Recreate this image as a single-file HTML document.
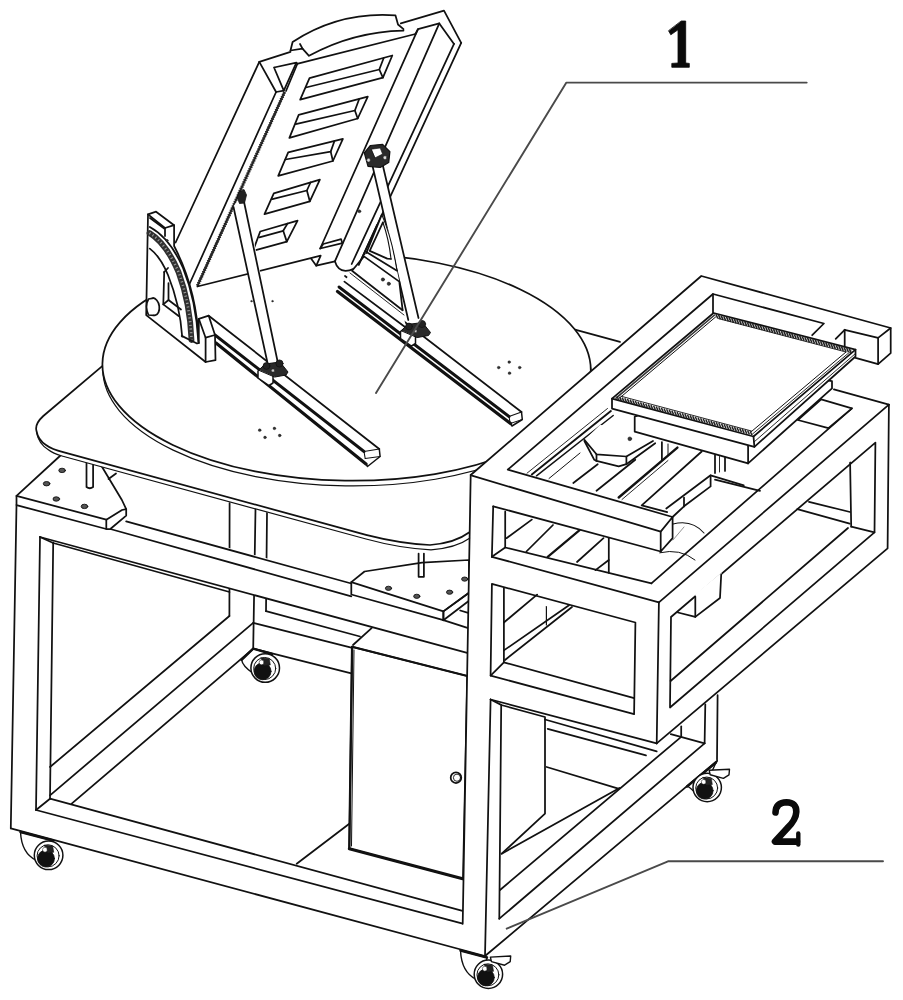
<!DOCTYPE html>
<html><head><meta charset="utf-8"><title>Figure</title>
<style>
html,body{margin:0;padding:0;background:#fff;}
body{width:903px;height:1000px;overflow:hidden;font-family:"Liberation Sans",sans-serif;}
svg{display:block;filter:blur(0.4px);}
</style></head><body>
<svg width="903" height="1000" viewBox="0 0 903 1000" fill="none" stroke="#111" stroke-width="1.75" stroke-linecap="round" stroke-linejoin="round">
<rect x="0" y="0" width="903" height="1000" fill="#fff" stroke="none"/>
<polyline points="229.6,503.0 229.4,616.0"/>
<polyline points="255.5,509.0 253.2,648.7"/>
<polyline points="267.0,513.0 266.0,611.2"/>
<path d="M241.6,659.8 L253.2,648.7 L272.0,654.0 L259.1,676.2 L252.9,673.1 Q242.6,666.0 241.6,659.8 Z" fill="#fff" stroke-width="1.4"/>
<polyline points="241.6,659.8 253.2,648.7 272.0,654.0" stroke-width="2.4"/>
<circle cx="265.2" cy="668.0" r="14.3" fill="#fff" stroke-width="1.5"/>
<circle cx="264.7" cy="668.5" r="11.031428571428572" fill="none" stroke-width="1.0"/>
<circle cx="262.6" cy="671.3" r="8.477857142857145" fill="#111" stroke-width="0.8"/>
<path d="M261.1,657.8 L269.3,658.8 L270.3,664.9 L264.2,666.0 Z" fill="#222" stroke-width="0.6"/>
<circle cx="261.6" cy="662.4" r="2.4514285714285715" fill="#fff" stroke-width="0.5"/>
<polyline points="50.0,767.0 229.4,616.0"/>
<polyline points="50.0,795.3 253.2,622.9"/>
<polyline points="71.7,803.7 253.2,648.7"/>
<polyline points="266.0,611.2 360.0,636.5"/>
<polyline points="253.2,622.9 351.3,647.7"/>
<polyline points="253.2,648.7 351.3,673.4"/>
<polyline points="371.6,628.2 353.0,645.0"/>
<polyline points="296.7,863.7 349.3,823.7"/>
<polygon points="352.1,646.8 467.3,676.0 463.0,879.0 349.3,848.7" fill="#fff"/>
<polyline points="354.0,650.0 351.5,846.0" stroke-width="1.0"/>
<polyline points="349.3,848.7 462.7,878.7" stroke-width="3.0"/>
<polyline points="352.1,646.8 349.3,848.7" stroke-width="2.3"/>
<polyline points="352.1,646.8 467.3,676.0" stroke-width="2.0"/>
<circle cx="456.0" cy="777.7" r="5.3" fill="#fff"/>
<circle cx="457.0" cy="777.7" r="3.6" fill="none" stroke-width="0.9"/>
<polygon points="110.3,529.0 126.2,519.7 469.0,614.0 469.0,653.3 40.0,537.0" fill="#fff" stroke="none"/>
<polyline points="126.2,521.3 351.3,583.5"/>
<polyline points="110.3,529.0 351.3,596.3"/>
<polyline points="443.4,620.2 469.0,628.3"/>
<polyline points="460.2,610.5 469.0,613.2"/>
<polyline points="40.0,537.0 469.0,653.3"/>
<polyline points="53.2,543.0 229.5,592.0"/>
<polyline points="16.5,505.0 10.8,828.3"/>
<polyline points="40.0,537.0 36.0,810.0"/>
<polyline points="53.2,542.3 50.0,799.0"/>
<polyline points="10.8,828.3 485.0,956.0"/>
<polyline points="36.0,810.0 462.7,923.7"/>
<polyline points="50.0,798.7 462.5,910.8"/>
<polyline points="36.0,810.0 50.0,798.7"/>
<polyline points="40.0,537.0 53.2,543.0"/>
<path d="M20.5,832.0 L53.0,840.5 L42.5,863.5 L36.3,860.4 Q21.5,853.3 20.5,832.0 Z" fill="#fff" stroke-width="1.4"/>
<polyline points="20.5,832.0 53.0,840.5" stroke-width="2.4"/>
<circle cx="48.6" cy="855.3" r="14.3" fill="#fff" stroke-width="1.5"/>
<circle cx="48.1" cy="855.8" r="11.031428571428572" fill="none" stroke-width="1.0"/>
<circle cx="46.0" cy="858.6" r="8.477857142857145" fill="#111" stroke-width="0.8"/>
<path d="M44.5,845.1 L52.7,846.1 L53.7,852.2 L47.6,853.3 Z" fill="#222" stroke-width="0.6"/>
<circle cx="45.0" cy="849.7" r="2.4514285714285715" fill="#fff" stroke-width="0.5"/>
<polygon points="16.5,495.8 61.0,455.0 100.9,465.0 121.9,500.0 126.2,509.1 126.2,515.7 110.3,529.0 106.3,529.0 16.5,505.1" fill="#fff"/>
<polyline points="108.5,479.0 116.0,473.5"/>
<polyline points="16.5,495.8 106.3,519.7 106.3,529.0"/>
<polyline points="106.3,519.7 122.0,510.0 126.2,509.1"/>
<ellipse cx="62.1" cy="470.4" rx="3.3" ry="2.2" transform="rotate(0 62.1 470.4)" fill="#555" stroke-width="0.9"/>
<ellipse cx="46.6" cy="483.7" rx="3.3" ry="2.2" transform="rotate(0 46.6 483.7)" fill="#555" stroke-width="0.9"/>
<ellipse cx="56.3" cy="499.0" rx="3.3" ry="2.2" transform="rotate(0 56.3 499.0)" fill="#555" stroke-width="0.9"/>
<ellipse cx="84.5" cy="506.4" rx="3.3" ry="2.2" transform="rotate(0 84.5 506.4)" fill="#555" stroke-width="0.9"/>
<path d="M86.5,462 L86.5,487 Q89.8,489.5 93.1,487 L93.1,463" fill="#fff"/>
<polygon points="351.3,582.1 364.5,571.5 422.0,562.7 469.0,560.0 469.0,592.8 443.4,611.4 443.4,620.2 351.3,594.5" fill="#fff"/>
<polyline points="351.3,582.1 443.4,611.4 443.4,620.2"/>
<polyline points="443.4,611.4 469.0,592.8"/>
<polyline points="443.4,620.2 469.0,600.7"/>
<ellipse cx="388.5" cy="588.3" rx="3.1" ry="2.1" transform="rotate(0 388.5 588.3)" fill="#555" stroke-width="0.9"/>
<ellipse cx="416.8" cy="596.3" rx="3.1" ry="2.1" transform="rotate(0 416.8 596.3)" fill="#555" stroke-width="0.9"/>
<ellipse cx="449.6" cy="592.2" rx="3.1" ry="2.1" transform="rotate(0 449.6 592.2)" fill="#555" stroke-width="0.9"/>
<ellipse cx="464.7" cy="579.1" rx="3.1" ry="2.1" transform="rotate(0 464.7 579.1)" fill="#555" stroke-width="0.9"/>
<path d="M103.7,364.8 L43.3,416 Q34.5,424 36.5,431 L37.5,438 Q42,448 62,456 L366,539 Q400,548.3 431,549.8 Q456,548 470,538 L470,475 L575,329.7 L620,343 L470,300 Z" fill="#fff" stroke="none"/>
<path d="M103.7,364.8 L43.3,416 Q34.5,424 36.5,431 Q38,440 46,445 Q52,449.5 63.2,452.1 L366,534.8 Q400,543.5 430,545 Q455,543 469,532.5" fill="none"/>
<path d="M36.8,433 Q38.5,443.5 48,449.5 Q53,453.5 62,456 L366,539 Q400,548.3 431,549.8 Q456,548 470,538" fill="none" stroke-width="1.2"/>
<polyline points="575.0,329.7 620.0,341.9"/>
<polyline points="418.6,553.5 418.6,576.8 423.9,576.8 423.9,553.5"/>
<ellipse cx="347.0" cy="372.4" rx="244.2" ry="113.5" transform="rotate(0.84 347.0 372.4)" fill="#fff" stroke-width="1.2"/>
<ellipse cx="346.6" cy="367.2" rx="244.2" ry="113.5" transform="rotate(0.84 346.6 367.2)" fill="#fff"/>
<circle cx="259.7" cy="430.2" r="1.4" fill="#333" stroke-width="0.3"/>
<circle cx="274.4" cy="428.4" r="1.4" fill="#333" stroke-width="0.3"/>
<circle cx="265.0" cy="437.4" r="1.4" fill="#333" stroke-width="0.3"/>
<circle cx="279.7" cy="435.5" r="1.4" fill="#333" stroke-width="0.3"/>
<circle cx="498.7" cy="367.6" r="1.4" fill="#333" stroke-width="0.3"/>
<circle cx="509.2" cy="362.1" r="1.4" fill="#333" stroke-width="0.3"/>
<circle cx="519.7" cy="367.6" r="1.4" fill="#333" stroke-width="0.3"/>
<circle cx="509.5" cy="373.2" r="1.4" fill="#333" stroke-width="0.3"/>
<circle cx="251.5" cy="301.2" r="0.9" fill="#333" stroke-width="0.3"/>
<circle cx="262.0" cy="295.7" r="0.9" fill="#333" stroke-width="0.3"/>
<circle cx="272.5" cy="301.2" r="0.9" fill="#333" stroke-width="0.3"/>
<circle cx="262.3" cy="306.8" r="0.9" fill="#333" stroke-width="0.3"/>
<polygon points="208.7,315.7 379.3,449.0 366.0,464.0 216.0,343.0" fill="#fff" stroke="none"/>
<polyline points="208.7,315.7 379.3,449.0"/>
<polyline points="215.0,335.0 364.0,451.5" stroke-width="2.9"/>
<polyline points="216.0,343.0 366.0,464.0" stroke-width="3.2"/>
<polyline points="379.3,449.0 380.1,456.5 367.5,466.5 366.0,464.0" stroke-width="1.5"/>
<polyline points="364.0,451.5 365.2,458.5" stroke-width="1.1"/>
<polyline points="364.0,451.5 379.3,449.0" stroke-width="1.2"/>
<polyline points="365.2,458.5 380.1,456.5" stroke-width="1.0"/>
<polygon points="345.0,276.0 521.5,412.0 510.5,423.5 337.5,291.5" fill="#fff" stroke="none"/>
<polyline points="345.0,276.0 521.5,412.0"/>
<polyline points="339.0,287.0 509.0,416.5" stroke-width="2.9"/>
<polyline points="337.5,291.5 510.5,423.5" stroke-width="3.2"/>
<polyline points="521.5,412.0 522.3,419.5 512.0,426.0 510.5,423.5" stroke-width="1.5"/>
<polyline points="509.0,416.5 510.2,423.5" stroke-width="1.1"/>
<polyline points="509.0,416.5 521.5,412.0" stroke-width="1.2"/>
<polyline points="510.2,423.5 522.3,419.5" stroke-width="1.0"/>
<polygon points="259.3,61.9 290.5,51.8 292.6,42.0 340.0,22.0 395.5,15.4 400.8,23.4 444.0,10.7 461.2,42.8 358.8,264.9 353.0,269.5 345.0,271.0 337.5,267.5 334.9,261.3 316.3,265.7 311.4,259.1 197.0,288.2 189.5,284.0 175.6,242.5" fill="#fff" stroke="none"/>
<path d="M290.5,50.5 L292.6,42 Q339.5,11.3 395.5,15.4 L398,24.5 L403.5,29.2" fill="none"/>
<path d="M290.5,50.5 L302.5,48.6 L309,55.8 Q353.2,31.6 403.5,30.6" fill="none"/>
<polyline points="302.5,48.6 300.0,44.0"/>
<polyline points="259.3,61.9 290.5,51.8"/>
<polyline points="400.8,23.4 444.0,10.7 461.2,42.8"/>
<polyline points="259.3,61.9 276.1,92.0"/>
<polyline points="259.3,61.9 175.6,242.5"/>
<polyline points="276.1,92.0 189.5,284.0"/>
<line x1="284.6" y1="92" x2="197.4" y2="286" stroke="#262626" stroke-width="2.1" stroke-linecap="butt"/>
<line x1="284.6" y1="92" x2="197.4" y2="286" stroke="#262626" stroke-width="3.4" stroke-dasharray="1.2 1.2" stroke-linecap="butt"/>
<polyline points="274.0,67.5 296.4,62.6 283.8,90.6 274.0,67.5"/>
<polyline points="276.1,92.0 283.8,90.6"/>
<polyline points="297.5,63.5 286.0,91.0"/>
<polyline points="297.0,63.8 415.4,34.0"/>
<polyline points="415.4,34.0 418.0,29.2 439.3,23.4 454.0,43.9"/>
<polyline points="418.0,29.2 320.2,248.5"/>
<polyline points="439.3,23.4 334.9,261.3"/>
<polyline points="454.0,43.9 351.7,264.0"/>
<polyline points="461.2,42.8 358.8,264.9"/>
<path d="M334.9,261.3 Q337.5,270.5 345.5,270.8 Q354,270.5 358.8,264.9" fill="none"/>
<polygon points="309.5,78.2 392.3,55.5 382.9,77.7 300.2,99.7" fill="#fff"/>
<polyline points="305.9,87.5 379.3,69.5 383.7,58.0"/>
<polyline points="379.3,69.5 382.9,77.7"/>
<polygon points="298.7,114.9 367.8,96.6 357.7,118.5 289.4,137.9" fill="#fff"/>
<polyline points="295.8,124.2 354.9,110.5 359.2,99.0"/>
<polyline points="354.9,110.5 357.7,118.5"/>
<polygon points="288.2,152.3 342.9,138.9 332.9,161.0 278.2,175.8" fill="#fff"/>
<polyline points="285.4,159.5 330.7,151.6 334.3,141.5"/>
<polyline points="330.7,151.6 332.9,161.0"/>
<polygon points="273.8,193.3 319.9,179.7 309.8,201.3 264.5,214.2" fill="#fff"/>
<polyline points="272.4,199.1 306.9,190.5 310.5,182.5"/>
<polyline points="306.9,190.5 309.8,201.3"/>
<polygon points="260.2,231.5 297.6,220.7 286.8,241.6 253.0,250.9" fill="#fff"/>
<polyline points="259.4,237.3 283.2,230.8 287.5,223.6"/>
<polyline points="283.2,230.8 286.8,241.6"/>
<polyline points="197.4,286.5 320.7,255.6 316.3,265.7 311.4,259.1"/>
<polyline points="316.3,265.7 334.9,261.3"/>
<polygon points="320.2,248.5 323.3,244.0 341.1,239.2 342.4,243.2" fill="#fff"/>
<path d="M148,214.4 L146.2,315.1 L205.6,362 L215.5,360.2 L215,335 L208.7,315.7 L198.8,318.8 L198.8,343 Q197,290 174.1,246 L174.1,225.2 L156.1,211.7 Z" fill="#fff"/>
<polyline points="148.0,214.4 165.0,228.0 165.0,236.0"/>
<polyline points="165.0,228.0 174.1,225.2"/>
<polyline points="150.0,218.0 164.2,228.5"/>
<path d="M149.8,227 Q170,238 183,268 Q196,300 198.4,342.1" fill="none"/>
<path d="M149.5,233 Q166,243 178.5,272 Q190,303 191.5,340" fill="none" stroke-width="5.8" stroke="#303030"/>
<path d="M149.5,233 Q166,243 178.5,272 Q190,303 191.5,340" stroke="#9a9a9a" stroke-width="2.6" stroke-dasharray="1.1 2.6" stroke-linecap="butt"/>
<path d="M149.8,248.6 Q160,256 168,275 Q180,305 182.2,336.7" fill="none"/>
<polyline points="164.2,272.0 163.3,304.4 178.6,316.0"/>
<polyline points="164.2,272.0 168.0,268.0"/>
<polyline points="163.3,304.4 168.5,300.0 168.5,283.0"/>
<polyline points="168.5,300.0 181.0,309.5"/>
<ellipse cx="153.7" cy="306.8" rx="5.6" ry="8.6" transform="rotate(-8 153.7 306.8)" fill="#fff"/>
<path d="M153.7,298.2 L148.5,299 Q144.5,306 148.5,315 L153.7,315.4" fill="#fff"/>
<polyline points="198.8,318.8 205.6,337.7 215.0,335.0"/>
<polyline points="205.6,337.7 205.6,362.0"/>
<polyline points="181.7,335.9 197.0,343.5 198.8,343.0"/>
<polygon points="233.0,207.0 241.0,196.0 246.0,201.8 278.0,360.0 268.0,364.0" fill="#fff" stroke="none"/>
<polyline points="233.5,207.0 267.7,363.8"/>
<polyline points="244.0,201.8 277.5,361.0"/>
<polygon points="239.0,192.0 244.0,189.5 246.5,195.0 244.5,203.0 239.5,203.5 237.5,198.0" fill="#222" stroke-width="0.8"/>
<polygon points="372.6,166.2 382.5,164.0 418.5,318.0 408.3,320.0" fill="#fff" stroke="none"/>
<polyline points="372.6,166.2 408.3,320.0"/>
<polyline points="382.5,164.0 418.5,318.0"/>
<polygon points="364.3,152.8 370.4,145.5 382.6,144.3 389.9,151.6 388.7,162.6 380.2,167.5 368.0,166.3" fill="#2a2a2a" stroke-width="1.2"/>
<polygon points="371.6,149.2 380.2,148.0 382.6,154.1 375.3,157.7" fill="#fff" stroke-width="0.6"/>
<circle cx="368.6" cy="160.2" r="1.83" fill="#ddd" stroke-width="0.4"/>
<circle cx="385.0" cy="157.7" r="1.83" fill="#ddd" stroke-width="0.4"/>
<polygon points="381.8,214.6 366.4,253.0 352.0,270.7 344.4,281.6 406.0,327.8 402.6,310.2 399.3,281.6 397.0,270.7 390.0,235.0" fill="#fff" stroke="none"/>
<polyline points="381.8,214.6 366.4,253.0"/>
<path d="M381.8,214.6 Q392,238 397,270.7" fill="none" stroke-width="1.1"/>
<path d="M382.9,222.3 Q389,240 391,259" fill="none" stroke-width="1.1"/>
<polyline points="382.9,222.3 369.7,250.9 387.3,258.6 391.0,259.0"/>
<polyline points="366.4,252.0 397.0,270.7"/>
<polyline points="364.0,256.4 399.3,281.6 402.6,310.2"/>
<polyline points="364.0,256.4 352.0,270.7 402.6,310.2"/>
<polyline points="350.0,273.0 404.0,315.0" stroke-width="0.9"/>
<polyline points="344.4,281.6 406.0,327.8"/>
<circle cx="382.9" cy="279.5" r="1.7" fill="#333" stroke-width="0.4"/>
<circle cx="388.8" cy="283.8" r="1.7" fill="#333" stroke-width="0.4"/>
<circle cx="359.4" cy="211.3" r="1.5" fill="#333" stroke-width="0.4"/>
<circle cx="167.0" cy="240.5" r="1.2" fill="#333" stroke-width="0.4"/>
<polyline points="377.0,225.0 358.8,264.9"/>
<polygon points="258.0,371.0 263.0,367.0 273.0,374.5 273.0,383.0 269.0,385.5 258.0,378.0" fill="#fff" stroke-width="1.5"/>
<polygon points="259.0,370.0 265.0,364.0 280.0,362.0 288.0,372.0 286.0,375.0 275.0,377.0" fill="#2a2a2a" stroke-width="1.0"/>
<circle cx="266.5" cy="366.0" r="3.4" fill="#222" stroke-width="0.8"/>
<circle cx="279.5" cy="363.5" r="3.6" fill="#222" stroke-width="0.8"/>
<circle cx="273.0" cy="370.5" r="1.6" fill="#ccc" stroke-width="0.3"/>
<polygon points="400.5,331.5 405.5,327.5 415.5,335.0 415.5,343.5 411.5,346.0 400.5,338.5" fill="#fff" stroke-width="1.5"/>
<polygon points="401.5,330.5 407.5,324.5 422.5,322.5 430.5,332.5 428.5,335.5 417.5,337.5" fill="#2a2a2a" stroke-width="1.0"/>
<circle cx="409.0" cy="326.5" r="3.4" fill="#222" stroke-width="0.8"/>
<circle cx="422.0" cy="324.0" r="3.6" fill="#222" stroke-width="0.8"/>
<circle cx="415.5" cy="331.0" r="1.6" fill="#ccc" stroke-width="0.3"/>
<polygon points="470.7,475.0 701.3,276.0 890.7,328.0 890.7,353.2 878.1,364.1 862.0,360.0 888.9,404.7 887.6,548.4 656.7,743.4 490.6,699.5 470.0,690.0" fill="#fff" stroke="none"/>
<polyline points="531.8,474.4 610.9,411.0" stroke-width="1.9"/>
<polyline points="536.5,475.8 613.2,415.5" stroke-width="1.5"/>
<polyline points="527.0,473.2 607.5,408.5" stroke-width="0.9"/>
<polyline points="573.3,483.0 597.7,464.2"/>
<polyline points="596.5,490.8 635.3,459.8"/>
<polyline points="549.0,478.5 580.0,453.0" stroke-width="1.0"/>
<polygon points="584.4,439.9 596.5,454.3 626.4,456.5 653.0,441.0 640.0,428.0 600.0,425.0" fill="#fff" stroke="none"/>
<polyline points="584.4,439.9 596.5,454.3 626.4,456.5 653.0,441.0"/>
<polyline points="584.4,441.0 594.3,459.8 596.5,460.9 618.7,466.4 626.4,464.2 655.2,443.2"/>
<polyline points="596.5,454.3 596.5,460.9"/>
<polyline points="626.4,456.5 626.4,464.2"/>
<circle cx="629.8" cy="438.8" r="1.9" fill="#333" stroke-width="0.5"/>
<polyline points="618.7,497.5 677.4,447.6" stroke-width="2.4"/>
<polyline points="622.0,499.5 668.0,460.5" stroke-width="0.9"/>
<polyline points="667.2,512.1 641.7,505.3 701.7,451.5"/>
<polyline points="666.3,508.5 710.6,475.3 743.8,485.3"/>
<polyline points="684.0,497.5 684.0,506.3"/>
<polyline points="684.0,506.3 710.6,486.4 710.6,475.3"/>
<polyline points="715.0,479.7 760.0,490.8"/>
<polyline points="672.6,517.0 684.0,506.3"/>
<polyline points="661.9,442.1 661.9,459.8"/>
<polyline points="668.0,444.0 668.0,455.0" stroke-width="1.0"/>
<polyline points="506.5,538.2 531.8,519.6"/>
<polyline points="526.4,551.5 553.0,525.0"/>
<polyline points="547.7,556.8 579.6,530.2" stroke-width="2.2"/>
<polyline points="577.0,562.0 603.5,538.2"/>
<polyline points="608.8,538.2 608.8,572.8"/>
<polyline points="595.5,570.1 608.8,560.0"/>
<path d="M673,524 Q692,519 704,533" fill="none" stroke-width="1.1"/>
<path d="M659.7,552.8 Q680,548 695,560" fill="none" stroke-width="1.0"/>
<polyline points="673.0,540.0 684.0,527.0" stroke-width="0.8" stroke="#777"/>
<polyline points="640.7,533.0 655.0,537.0"/>
<polygon points="634.7,416.7 634.7,431.7 748.1,463.4 832.0,388.4 832.0,381.2 760.0,370.0" fill="#fff"/>
<polyline points="748.1,446.2 748.1,463.4"/>
<polyline points="715.0,455.4 715.0,473.0"/>
<polyline points="725.0,457.6 725.0,470.9"/>
<polyline points="719.5,456.5 719.5,472.0" stroke-width="0.9"/>
<polygon points="713.6,313.0 855.5,349.6 855.5,356.5 754.4,446.8 612.0,408.6 612.0,398.7" fill="#fff"/>
<polyline points="612.0,398.7 753.5,436.5 855.5,349.6"/>
<polyline points="753.5,436.5 754.4,446.8"/>
<polyline points="620.0,397.7 715.6,317.0" stroke-width="1.0"/>
<polyline points="616.0,398.2 714.6,315.0" stroke-width="1.6" stroke="#333"/>
<polyline points="751.5,431.5 846.0,352.0" stroke-width="1.0"/>
<polyline points="752.5,434.0 851.0,351.0" stroke-width="0.9"/>
<polyline points="754.0,442.0 855.5,353.5" stroke-width="0.9"/>
<path d="M716.0,314.2 l1.8,4.3 M718.6,314.9 l1.8,4.3 M721.2,315.6 l1.8,4.3 M723.8,316.2 l1.8,4.3 M726.5,316.9 l1.8,4.3 M729.1,317.6 l1.8,4.3 M731.7,318.3 l1.8,4.3 M734.3,318.9 l1.8,4.3 M736.9,319.6 l1.8,4.3 M739.5,320.3 l1.8,4.3 M742.1,321.0 l1.8,4.3 M744.8,321.6 l1.8,4.3 M747.4,322.3 l1.8,4.3 M750.0,323.0 l1.8,4.3 M752.6,323.7 l1.8,4.3 M755.2,324.3 l1.8,4.3 M757.8,325.0 l1.8,4.3 M760.4,325.7 l1.8,4.3 M763.1,326.4 l1.8,4.3 M765.7,327.0 l1.8,4.3 M768.3,327.7 l1.8,4.3 M770.9,328.4 l1.8,4.3 M773.5,329.1 l1.8,4.3 M776.1,329.7 l1.8,4.3 M778.7,330.4 l1.8,4.3 M781.4,331.1 l1.8,4.3 M784.0,331.8 l1.8,4.3 M786.6,332.4 l1.8,4.3 M789.2,333.1 l1.8,4.3 M791.8,333.8 l1.8,4.3 M794.4,334.5 l1.8,4.3 M797.0,335.1 l1.8,4.3 M799.7,335.8 l1.8,4.3 M802.3,336.5 l1.8,4.3 M804.9,337.2 l1.8,4.3 M807.5,337.8 l1.8,4.3 M810.1,338.5 l1.8,4.3 M812.7,339.2 l1.8,4.3 M815.3,339.9 l1.8,4.3 M818.0,340.5 l1.8,4.3 M820.6,341.2 l1.8,4.3 M823.2,341.9 l1.8,4.3 M825.8,342.6 l1.8,4.3 M828.4,343.2 l1.8,4.3 M831.0,343.9 l1.8,4.3 M833.6,344.6 l1.8,4.3 M836.3,345.3 l1.8,4.3 M838.9,345.9 l1.8,4.3 M841.5,346.6 l1.8,4.3 M844.1,347.3 l1.8,4.3 M846.7,348.0 l1.8,4.3 M849.3,348.6 l1.8,4.3" stroke="#222" stroke-width="1.6" stroke-linecap="butt"/>
<path d="M617.0,396.2 l1.8,4.0 M619.6,396.9 l1.8,4.0 M622.2,397.6 l1.8,4.0 M624.8,398.3 l1.8,4.0 M627.4,398.9 l1.8,4.0 M630.1,399.6 l1.8,4.0 M632.7,400.3 l1.8,4.0 M635.3,401.0 l1.8,4.0 M637.9,401.7 l1.8,4.0 M640.5,402.4 l1.8,4.0 M643.1,403.1 l1.8,4.0 M645.7,403.7 l1.8,4.0 M648.3,404.4 l1.8,4.0 M650.9,405.1 l1.8,4.0 M653.6,405.8 l1.8,4.0 M656.2,406.5 l1.8,4.0 M658.8,407.2 l1.8,4.0 M661.4,407.9 l1.8,4.0 M664.0,408.5 l1.8,4.0 M666.6,409.2 l1.8,4.0 M669.2,409.9 l1.8,4.0 M671.8,410.6 l1.8,4.0 M674.5,411.3 l1.8,4.0 M677.1,412.0 l1.8,4.0 M679.7,412.7 l1.8,4.0 M682.3,413.3 l1.8,4.0 M684.9,414.0 l1.8,4.0 M687.5,414.7 l1.8,4.0 M690.1,415.4 l1.8,4.0 M692.7,416.1 l1.8,4.0 M695.3,416.8 l1.8,4.0 M698.0,417.5 l1.8,4.0 M700.6,418.2 l1.8,4.0 M703.2,418.8 l1.8,4.0 M705.8,419.5 l1.8,4.0 M708.4,420.2 l1.8,4.0 M711.0,420.9 l1.8,4.0 M713.6,421.6 l1.8,4.0 M716.2,422.3 l1.8,4.0 M718.8,423.0 l1.8,4.0 M721.5,423.6 l1.8,4.0 M724.1,424.3 l1.8,4.0 M726.7,425.0 l1.8,4.0 M729.3,425.7 l1.8,4.0 M731.9,426.4 l1.8,4.0 M734.5,427.1 l1.8,4.0 M737.1,427.8 l1.8,4.0 M739.7,428.4 l1.8,4.0 M742.3,429.1 l1.8,4.0 M745.0,429.8 l1.8,4.0 M747.6,430.5 l1.8,4.0 M750.2,431.2 l1.8,4.0" stroke="#222" stroke-width="1.5" stroke-linecap="butt"/>
<polyline points="718.5,318.6 846.0,352.0" stroke-width="0.9"/>
<polyline points="621.0,396.2 751.5,431.0" stroke-width="0.9"/>
<polyline points="470.7,475.0 701.3,276.0 890.7,328.0 890.7,353.2 878.1,364.1 855.5,357.8"/>
<polyline points="844.7,329.8 878.1,337.9 890.7,328.0"/>
<polyline points="878.1,337.9 878.1,364.1"/>
<polyline points="844.7,329.8 844.7,346.0"/>
<polyline points="844.7,329.8 835.7,338.8"/>
<polyline points="507.8,469.6 713.0,294.0 823.9,323.5 812.2,335.2"/>
<polyline points="713.0,294.0 713.0,312.5"/>
<polygon points="472.0,475.7 507.8,469.6 672.6,517.0 672.6,538.2 660.7,551.5 493.2,506.3" fill="#fff" stroke="none"/>
<polyline points="472.0,475.7 660.7,531.6"/>
<polyline points="507.8,469.6 672.6,517.0 672.6,538.2 660.7,551.5 660.7,531.6 672.6,517.0"/>
<polyline points="493.2,506.3 660.7,551.5"/>
<polyline points="493.2,506.3 491.9,556.8"/>
<polyline points="505.2,511.6 505.2,547.5 651.4,583.4"/>
<polyline points="505.2,547.5 491.9,556.8"/>
<polyline points="491.9,556.8 658.9,602.3"/>
<polyline points="658.9,602.3 888.9,404.7"/>
<polyline points="651.4,583.4 851.9,408.3"/>
<polyline points="833.9,389.4 888.9,404.7"/>
<polygon points="821.2,399.3 851.9,408.3 828.4,428.2 797.8,420.0" fill="#fff"/>
<polyline points="888.9,404.7 887.6,548.4 656.7,743.4"/>
<polyline points="658.9,602.3 656.7,743.4"/>
<polyline points="671.0,617.0 875.4,442.6 874.5,532.4 670.0,707.5 671.0,617.0"/>
<polyline points="850.1,462.5 851.2,526.6"/>
<polyline points="848.0,528.0 670.6,681.0"/>
<polyline points="874.5,532.4 851.2,526.6"/>
<polyline points="797.3,509.1 849.7,523.7"/>
<polyline points="809.0,501.8 850.0,512.0"/>
<polygon points="695.3,594.0 721.5,572.5 720.0,598.0 695.3,616.9" fill="#fff" stroke="none"/>
<polyline points="695.3,596.5 695.3,616.9 677.9,612.5"/>
<polyline points="695.3,616.9 720.0,598.0 721.2,574.5"/>
<polyline points="491.9,583.9 635.4,622.5 634.1,714.2 490.6,675.6 491.9,583.9"/>
<polyline points="503.9,587.9 503.9,662.3 634.1,698.2"/>
<polyline points="503.9,662.3 490.6,675.6"/>
<polyline points="503.9,622.5 537.1,594.6"/>
<polyline points="503.9,650.4 569.0,605.2"/>
<polyline points="505.0,660.0 572.0,607.0"/>
<polyline points="546.4,606.5 546.4,625.0" stroke-width="1.2"/>
<polyline points="490.6,699.5 656.7,743.4"/>
<polyline points="501.2,705.0 545.0,717.0 545.0,813.7 501.7,853.7"/>
<polyline points="545.0,719.5 656.7,751.4"/>
<polyline points="547.7,728.8 646.0,755.4"/>
<polyline points="546.7,767.0 618.3,788.7"/>
<polyline points="501.7,853.7 619.5,788.0"/>
<polyline points="705.3,704.3 704.6,743.3"/>
<polyline points="717.6,695.2 717.0,760.9"/>
<polyline points="681.2,726.4 681.2,736.8"/>
<polygon points="485.0,956.0 717.0,760.9 704.6,743.3 681.2,736.8 500.0,890.0" fill="#fff" stroke="none"/>
<polyline points="485.0,956.0 717.0,760.9"/>
<polyline points="499.3,918.7 704.6,743.3"/>
<polyline points="500.0,890.0 681.2,736.8"/>
<polyline points="670.8,734.2 704.6,743.3"/>
<polygon points="470.7,475.0 470.7,700.0 490.6,699.5 485.0,956.0 462.7,923.7" fill="#fff" stroke="none"/>
<polyline points="470.7,475.0 462.7,923.7"/>
<polyline points="490.6,699.5 485.0,956.0"/>
<polyline points="490.6,699.5 501.2,704.9 499.3,918.7"/>
<path d="M460.5,950.5 L487.0,957.5 L482.3,982.4 L476.2,979.4 Q461.5,972.3 460.5,950.5 Z" fill="#fff" stroke-width="1.4"/>
<polyline points="460.5,950.5 487.0,957.5" stroke-width="2.4"/>
<circle cx="488.4" cy="974.3" r="14.2" fill="#fff" stroke-width="1.5"/>
<circle cx="487.9" cy="974.8" r="10.954285714285714" fill="none" stroke-width="1.0"/>
<circle cx="485.9" cy="977.5" r="8.418571428571429" fill="#111" stroke-width="0.8"/>
<path d="M484.3,964.2 L492.5,965.2 L493.5,971.3 L487.4,972.3 Z" fill="#222" stroke-width="0.6"/>
<circle cx="484.8" cy="968.7" r="2.434285714285714" fill="#fff" stroke-width="0.5"/>
<polygon points="490.4,957.1 510.7,956.0 510.2,961.6 504.6,965.2 491.4,961.6" fill="#fff" stroke-width="1.4"/>
<path d="M687.0,786.5 L716.0,762.5 L701.1,795.6 L695.0,792.6 Q688.0,785.5 687.0,786.5 Z" fill="#fff" stroke-width="1.4"/>
<polyline points="687.0,786.5 716.0,762.5" stroke-width="2.4"/>
<circle cx="707.2" cy="787.5" r="14.2" fill="#fff" stroke-width="1.5"/>
<circle cx="706.7" cy="788.0" r="10.954285714285714" fill="none" stroke-width="1.0"/>
<circle cx="704.7" cy="790.7" r="8.418571428571429" fill="#111" stroke-width="0.8"/>
<path d="M703.1,777.4 L711.3,778.4 L712.3,784.5 L706.2,785.5 Z" fill="#222" stroke-width="0.6"/>
<circle cx="703.7" cy="781.9" r="2.434285714285714" fill="#fff" stroke-width="0.5"/>
<polygon points="709.2,770.3 729.5,769.2 729.0,774.8 723.4,778.4 710.2,774.8" fill="#fff" stroke-width="1.4"/>
<polyline points="376.0,393.0 566.4,82.6 806.7,82.6" stroke-width="1.9" stroke="#4a4a4a"/>
<polyline points="506.7,928.7 668.0,861.3 883.0,861.3" stroke-width="1.9" stroke="#4a4a4a"/>
<path d="M681.5,21 L685.7,21 L685.7,63 L689.3,63.4 L689.3,67.3 L671.8,67.3 L671.8,63.4 L678,63 L678,29.8 L670.8,34.8 L668.7,31 Z" fill="#0a0a0a" stroke-width="0.8" stroke="#0a0a0a"/>
<path d="M775.5,812.5 Q776,802.3 786.5,802.2 Q796.6,802.4 796.3,812 Q796,820 787,828.5 L775,841.6 L797,841.6" fill="none" stroke-width="6.6" stroke="#0a0a0a"/>
<path d="M798.3,844.5 L798.3,833.5" fill="none" stroke-width="4.4" stroke="#0a0a0a"/>
</svg>
</body></html>
